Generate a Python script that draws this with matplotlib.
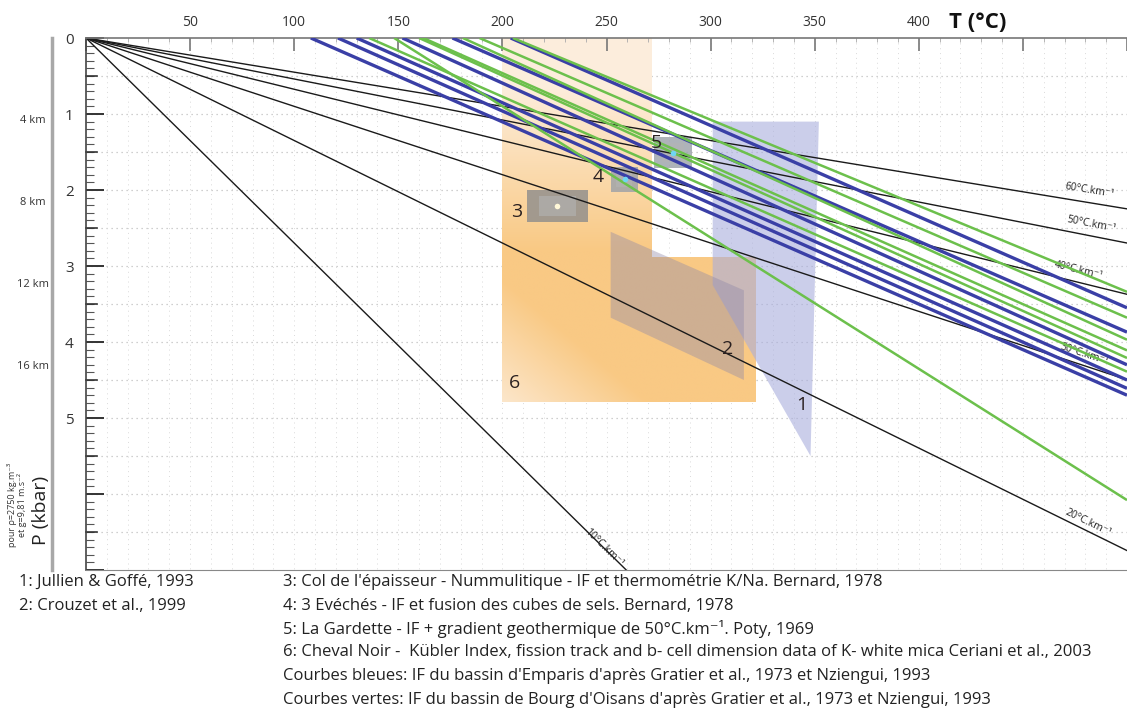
import numpy as np
import matplotlib.pyplot as plt
from matplotlib.patches import Polygon, Rectangle
from matplotlib.lines import Line2D
from matplotlib.transforms import blended_transform_factory

plt.rcParams['font.family'] = ['Open Sans', 'DejaVu Sans']

W, H = 1127, 711

# gradients geothermiques (degC/km) et conversion P -> profondeur
geo_grads = [10, 20, 30, 40, 50, 60]
km_per_kbar = 1e8 / (2750 * 9.81) / 1000.0
depth_km = [4, 8, 12, 16]

# isochores : T a P=0 et P a T=500
blue_t0 = [108, 121, 130, 152, 176, 204]
blue_p500 = [4.70, 4.61, 4.50, 4.30, 3.87, 3.55]
green_t0 = [136, 148, 160, 162, 181, 189, 205]
green_p500 = [4.39, 6.08, 4.21, 4.11, 3.97, 3.68, 3.34]

# domaines P-T
dom1_T = [301, 352, 348, 301]
dom1_P = [1.10, 1.10, 5.50, 3.25]
dom2_T = [252, 316, 316, 252]
dom2_P = [2.55, 3.32, 4.50, 3.68]
dom6_T = [200, 272, 272, 322, 322, 200]
dom6_P = [0, 0, 2.88, 2.88, 4.79, 4.79]
# boites 3, 4, 5 : Tmin, Tmax, Pmin, Pmax, point central
boxes = {
    '3': (212, 241, 2.00, 2.42, 226, 2.21),
    '4': (252, 265, 1.70, 2.03, 259, 1.86),
    '5': (273, 291, 1.30, 1.71, 282, 1.51),
}

x_ticks = [0, 50, 100, 150, 200, 250, 300, 350, 400, 450, 500]
x_labels = ['', '50', '100', '150', '200', '250', '300', '350', '400', '', '']
y_ticks = [0, 1, 2, 3, 4, 5, 6, 7]
y_labels = ['0', '1', '2', '3', '4', '5', '', '']

legend_left = ["1: Jullien & Goffé, 1993", "2: Crouzet et al., 1999"]
legend_right = [
    "3: Col de l'épaisseur - Nummulitique - IF et thermométrie K/Na. Bernard, 1978",
    "4: 3 Evéchés - IF et fusion des cubes de sels. Bernard, 1978",
    "5: La Gardette - IF + gradient geothermique de 50°C.km⁻¹. Poty, 1969",
    "6: Cheval Noir -  Kübler Index, fission track and b- cell dimension data of K- white mica Ceriani et al., 2003",
    "Courbes bleues: IF du bassin d'Emparis d'après Gratier et al., 1973 et Nziengui, 1993",
    "Courbes vertes: IF du bassin de Bourg d'Oisans d'après Gratier et al., 1973 et Nziengui, 1993",
]

fig = plt.figure(figsize=(W / 100, H / 100), dpi=100)
ax = fig.add_axes([86 / W, 1 - 570 / H, (W - 86) / W, (570 - 38) / H])
ax.set_xlim(0, 500)
ax.set_ylim(7, 0)

# grille pointillee
ax.hlines(np.arange(0.5, 7, 0.5), 0, 500, colors='#c0c0c0', linestyles=(0, (1, 3)), lw=0.9, zorder=0)
ax.vlines(np.arange(10, 500, 10), 0, 7, colors='#dadada', linestyles=(0, (1, 4)), lw=0.7, zorder=0)

# domaine 6 avec degrade orange
TT, PP = np.meshgrid(np.linspace(200, 322, 200), np.linspace(0, 4.79, 300))
k = np.clip((PP - 0.5) / 2.3, 0.06, 1.0)
low = np.clip(1 - ((TT - 200) / 70 + (4.79 - PP) / 1.6), 0, 1)
k = np.where(PP > 2.88, np.maximum(k, 0.5) * (1 - 0.75 * low), k)
pale = np.array([253, 240, 226]) / 255.0
org = np.array([249, 201, 132]) / 255.0
img = pale[None, None, :] * (1 - k[..., None]) + org[None, None, :] * k[..., None]
poly6 = Polygon(np.column_stack([dom6_T, dom6_P]), closed=True, facecolor='none', edgecolor='none')
ax.add_patch(poly6)
im = ax.imshow(img, extent=[200, 322, 4.79, 0], origin='upper', aspect='auto', zorder=1, interpolation='bilinear')
im.set_clip_path(poly6)

ax.add_patch(Polygon(np.column_stack([dom1_T, dom1_P]), closed=True, facecolor='#a9aedd', alpha=0.6,
                     edgecolor='none', zorder=1.5))
ax.add_patch(Polygon(np.column_stack([dom2_T, dom2_P]), closed=True, facecolor='#8f88a8', alpha=0.4,
                     edgecolor='none', zorder=1.6))

for name, (t1, t2, p1, p2, tc, pc) in boxes.items():
    fc = '#8c8c8c' if name == '3' else '#9aa0a8'
    ax.add_patch(Rectangle((t1, p1), t2 - t1, p2 - p1, facecolor=fc, alpha=0.8, edgecolor='none', zorder=1.7))
    ax.add_patch(Rectangle((t1 + (t2 - t1) * 0.2, p1 + (p2 - p1) * 0.2), (t2 - t1) * 0.6, (p2 - p1) * 0.6,
                           facecolor='#b4b4b4', alpha=0.6, edgecolor='none', zorder=1.75))
    dot = '#fff8d8' if name == '3' else '#6fd6f2'
    ax.plot([tc], [pc], 'o', ms=4, color=dot, mec='none', zorder=4)

# geothermes
T = np.array([0, 500])
for g in geo_grads:
    ax.plot(T, T / (g * km_per_kbar), color='#1a1a1a', lw=1.0, zorder=2)

# isochores
for t0, p5 in zip(blue_t0, blue_p500):
    ax.plot([t0, 500], [0, p5], color='#3a3fa6', lw=2.4, zorder=3, solid_capstyle='butt')
for t0, p5 in zip(green_t0, green_p500):
    ax.plot([t0, 500], [0, p5], color='#6cc04c', lw=1.8, zorder=3.1, solid_capstyle='butt')

# etiquettes des geothermes
px_T = (W - 86) / 500.0
px_P = (570 - 38) / 7.0
lab_T = {10: 253, 20: 484, 30: 481, 40: 478, 50: 484, 60: 483}
for g in geo_grads:
    t = lab_T[g]
    p = t / (g * km_per_kbar)
    ang = np.degrees(np.arctan((px_P / (g * km_per_kbar)) / px_T))
    ax.annotate('%d°C.km⁻¹' % g, (t, p), xytext=(-np.sin(np.radians(ang)) * 9, np.cos(np.radians(ang)) * 9),
                textcoords='offset points', rotation=-ang, ha='center', va='center', fontsize=7.5,
                color='#222222', zorder=2.5, annotation_clip=False, clip_on=True)

# numeros des domaines
num_pos = {'1': (344, 4.83), '2': (308, 4.09), '3': (207, 2.29), '4': (246, 1.83), '5': (274, 1.38), '6': (206, 4.54)}
for s, (t, p) in num_pos.items():
    ax.text(t, p, s, fontsize=14, color='#2a2020', ha='center', va='center', zorder=5)

# axes
ax.xaxis.tick_top()
ax.set_xticks(x_ticks)
ax.set_xticklabels(x_labels)
ax.set_xticks(np.arange(0, 501, 10), minor=True)
ax.tick_params(axis='x', which='major', direction='in', length=9, width=1.2, color='#777777',
               labelsize=10, labelcolor='#333333', pad=6)
ax.tick_params(axis='x', which='minor', direction='in', length=3, width=0.6, color='#aaaaaa')
ax.set_yticks(y_ticks)
ax.set_yticklabels(y_labels)
ax.set_yticks(np.arange(0, 7.01, 0.1), minor=True)
ax.tick_params(axis='y', which='major', direction='in', length=13, width=1.4, color='#333333',
               labelsize=11, labelcolor='#333333', pad=9)
ax.tick_params(axis='y', which='minor', direction='in', length=5.5, width=0.8, color='#555555')
trans_half = blended_transform_factory(ax.transAxes, ax.transData)
for p in np.arange(0.5, 7, 1.0):
    ax.plot([0, 0.011], [p, p], color='#333333', lw=1.2, transform=trans_half, clip_on=False)

ax.spines['right'].set_visible(False)
ax.spines['top'].set_color('#777777')
ax.spines['top'].set_linewidth(1.2)
ax.spines['bottom'].set_color('#888888')
ax.spines['left'].set_color('#444444')
ax.spines['left'].set_linewidth(1.2)

fig.text(978 / W, 1 - 22 / H, 'T (°C)', fontsize=16, fontweight='bold', ha='center', va='center', color='#111111')

# barre grise et textes a gauche
fig.add_artist(Line2D([52 / W, 52 / W], [1 - 38 / H, 1 - 570 / H], color='#a8a8a8', lw=2.5))
trans_depth = blended_transform_factory(fig.transFigure, ax.transData)
for d in depth_km:
    ax.text(33 / W, d / km_per_kbar, '%d km' % d, transform=trans_depth, fontsize=8, color='#333333',
            ha='center', va='center', clip_on=False)
fig.text(41 / W, 1 - 510 / H, 'P (kbar)', rotation=90, fontsize=14, ha='center', va='center', color='#222222')
fig.text(12 / W, 1 - 505 / H, 'pour ρ=2750 kg.m⁻³', rotation=90, fontsize=6.5, ha='center', va='center',
         color='#333333')
fig.text(22 / W, 1 - 505 / H, 'et g=9,81 m.s⁻²', rotation=90, fontsize=6.5, ha='center', va='center',
         color='#333333')

# legende
for i, s in enumerate(legend_left):
    fig.text(19 / W, 1 - (582 + 23.5 * i) / H, s, fontsize=12, ha='left', va='center', color='#222222')
for i, s in enumerate(legend_right):
    fig.text(283 / W, 1 - (582 + 23.5 * i) / H, s, fontsize=12, ha='left', va='center', color='#222222')

fig.savefig('out.png', dpi=100)
